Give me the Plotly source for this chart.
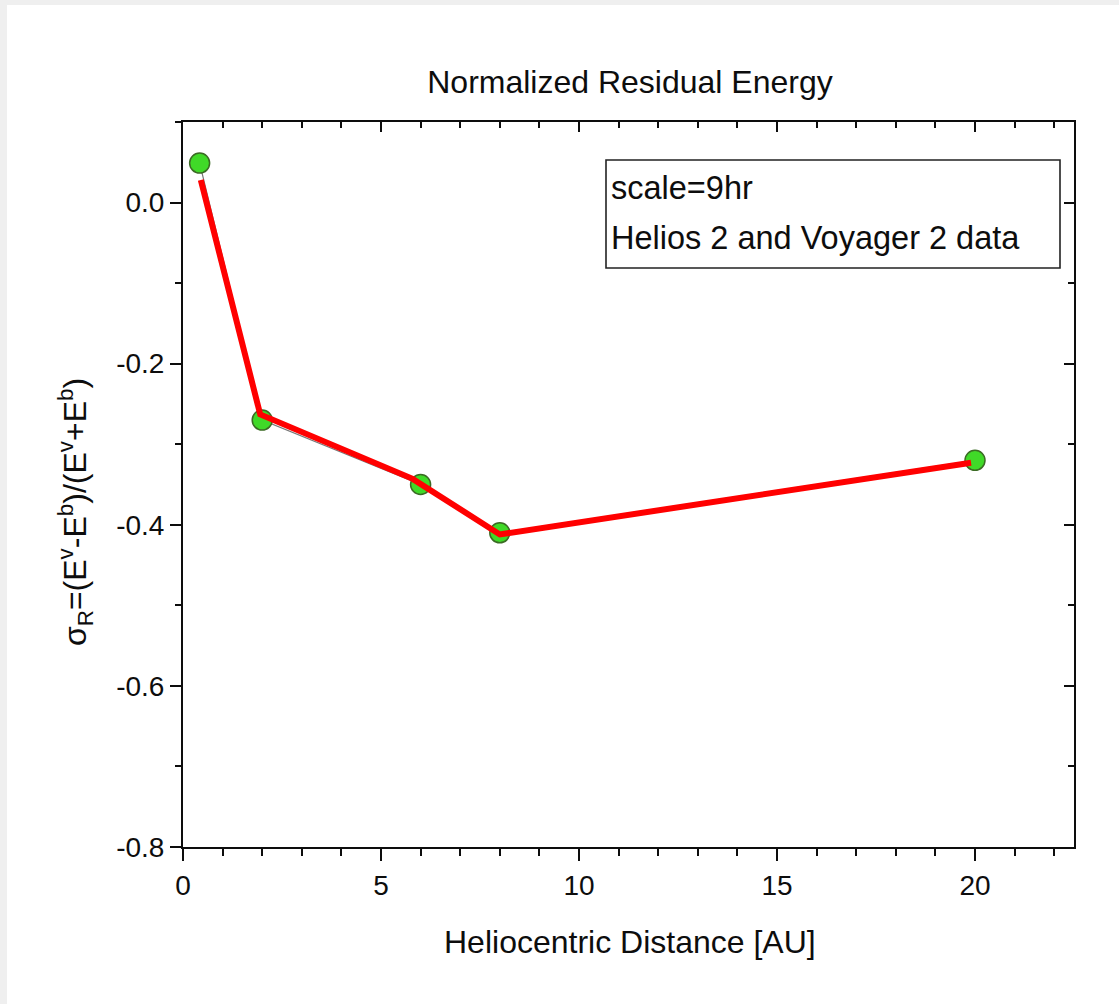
import plotly.graph_objects as go

# Measured normalized residual energy vs heliocentric distance
distance_au = [0.42, 2.0, 6.0, 8.0, 20.0]
sigma_r = [0.049, -0.270, -0.350, -0.410, -0.320]

# Hand-drawn trend line overlaid on the measurements
trend_x = [0.45, 1.95, 5.8, 8.0, 19.9]
trend_y = [0.028, -0.263, -0.343, -0.412, -0.323]

y_tickvals = [0.0, -0.2, -0.4, -0.6, -0.8]
y_ticktext = ["0.0", "-0.2", "-0.4", "-0.6", "-0.8"]
x_tickvals = [0, 5, 10, 15, 20]

W, H = 1119, 1004
L, R, T, B = 183, 45, 122, 157
pw, ph = W - L - R, H - T - B


def px_x(p):
    return (p - L) / pw


def px_y(p):
    return (H - B - p) / ph


font = "Liberation Sans, Arial, sans-serif"
ink = "#0d0d0d"

fig = go.Figure()

# thin connector through the data points
fig.add_trace(go.Scatter(
    x=distance_au, y=sigma_r, mode="lines",
    line=dict(color="#777777", width=1.2), hoverinfo="skip", showlegend=False,
))
# data markers
fig.add_trace(go.Scatter(
    x=distance_au, y=sigma_r, mode="markers",
    marker=dict(size=20, color="#40d928", line=dict(color="#3b6b24", width=1.5)),
    showlegend=False,
))
# red trend line
fig.add_trace(go.Scatter(
    x=trend_x, y=trend_y, mode="lines",
    line=dict(color="#ff0000", width=6), showlegend=False,
))
# anchor trace for the mirrored top/right axes
fig.add_trace(go.Scatter(
    x=[distance_au[0]], y=[sigma_r[0]], xaxis="x2", yaxis="y2",
    mode="markers", marker=dict(opacity=0), hoverinfo="skip", showlegend=False,
))

axis_common = dict(
    showgrid=False, zeroline=False, showline=True, linecolor=ink, linewidth=2,
    tickcolor=ink, tickwidth=2,
    tickfont=dict(family=font, size=28, color=ink),
)

fig.update_layout(
    width=W, height=H,
    margin=dict(l=L, r=R, t=T, b=B),
    paper_bgcolor="#efefef",
    plot_bgcolor="white",
    font=dict(family=font, color=ink),
    title=dict(
        text="Normalized Residual Energy", x=630 / W,
        xanchor="center", y=1 - 82 / H, yanchor="middle",
        font=dict(family=font, size=32, color=ink),
    ),
    xaxis=dict(
        range=[0, 22.5], tickmode="array", tickvals=x_tickvals,
        ticks="outside", ticklen=12,
        minor=dict(ticks="outside", ticklen=7, dtick=1, tick0=0,
                   tickcolor=ink, tickwidth=2),
        **axis_common,
    ),
    yaxis=dict(
        range=[-0.8, 0.1], tickmode="array", tickvals=y_tickvals, ticktext=y_ticktext,
        ticks="outside", ticklen=11,
        minor=dict(ticks="outside", ticklen=6, dtick=0.1, tick0=-0.8,
                   tickcolor=ink, tickwidth=2),
        **axis_common,
    ),
    xaxis2=dict(
        overlaying="x", side="top", matches="x", range=[0, 22.5],
        tickmode="array", tickvals=x_tickvals, ticks="inside", ticklen=10,
        showticklabels=False,
        minor=dict(ticks="inside", ticklen=6, dtick=1, tick0=0,
                   tickcolor=ink, tickwidth=2),
        **axis_common,
    ),
    yaxis2=dict(
        overlaying="y", side="right", matches="y", range=[-0.8, 0.1],
        tickmode="array", tickvals=y_tickvals, ticks="inside", ticklen=10,
        showticklabels=False,
        minor=dict(ticks="inside", ticklen=6, dtick=0.1, tick0=-0.8,
                   tickcolor=ink, tickwidth=2),
        **axis_common,
    ),
)

# white page card over the light grey surround
fig.add_shape(
    type="rect", xref="paper", yref="paper", layer="below",
    x0=px_x(7), x1=px_x(W + 5), y0=px_y(H + 5), y1=px_y(5),
    fillcolor="white", line=dict(width=0),
)

# note box
fig.add_shape(
    type="rect", xref="paper", yref="paper",
    x0=px_x(606), x1=px_x(1060), y0=px_y(268), y1=px_y(160),
    fillcolor="white", line=dict(color="#222222", width=1.6),
)
fig.add_annotation(
    text="scale=9hr", xref="paper", yref="paper",
    x=px_x(609), y=px_y(188), xanchor="left", yanchor="middle", showarrow=False,
    font=dict(family=font, size=32.5, color=ink),
)
fig.add_annotation(
    text="Helios 2 and Voyager 2 data", xref="paper", yref="paper",
    x=px_x(609), y=px_y(238), xanchor="left", yanchor="middle", showarrow=False,
    font=dict(family=font, size=32.5, color=ink),
)

# axis titles
fig.add_annotation(
    text="Heliocentric Distance [AU]", xref="paper", yref="paper",
    x=px_x(630), y=px_y(942), xanchor="center", yanchor="middle", showarrow=False,
    font=dict(family=font, size=32, color=ink),
)
fig.add_annotation(
    text="σ<sub>R</sub>=(E<sup>v</sup>-E<sup>b</sup>)/(E<sup>v</sup>+E<sup>b</sup>)",
    xref="paper", yref="paper", textangle=-90,
    x=px_x(75), y=px_y(512), xanchor="center", yanchor="middle", showarrow=False,
    font=dict(family=font, size=32, color=ink),
)

fig.write_html("out.html")
